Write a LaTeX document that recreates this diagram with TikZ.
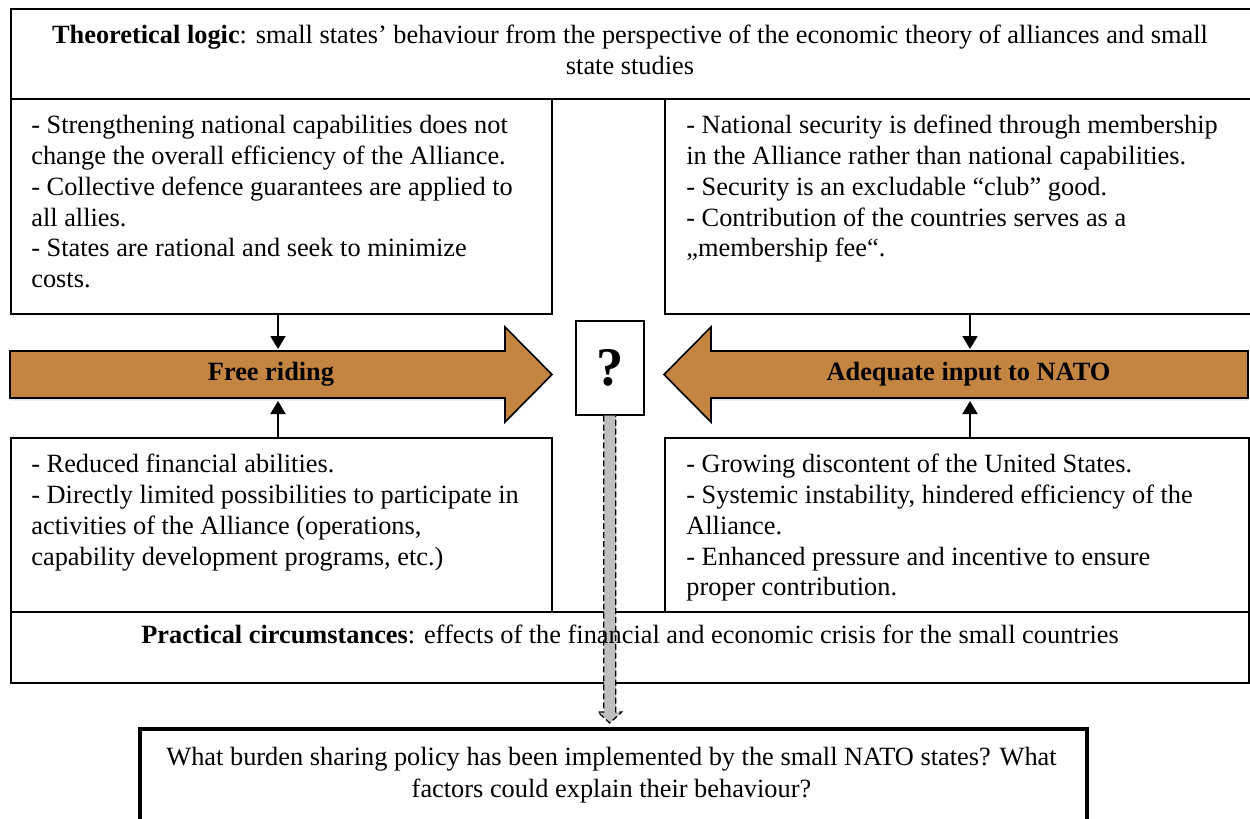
\documentclass[tikz,border=0pt]{standalone}
\usepackage{fontspec}
\setmainfont{Liberation Serif}
\usetikzlibrary{arrows.meta,calc,shadows}
\definecolor{arrowbrown}{RGB}{196,132,66}
\definecolor{dashgray}{RGB}{191,191,191}
\newcommand{\pxu}{0.02cm}
\newcommand{\bodysize}{\fontsize{15}{17.6}\selectfont}
\tikzset{
  boxframe/.style={draw, line width=0.9pt, inner sep=0pt, anchor=north west},
  txt/.style={inner sep=0pt, font=\bodysize, align=left, anchor=north west},
  ctxt/.style={inner sep=0pt, font=\bodysize, align=center, anchor=north},
  bigarrow/.style={draw, line width=0.9pt, fill=arrowbrown,
    drop shadow={shadow xshift=0pt, shadow yshift=-0.05cm, fill=black!18}},
  feed/.style={line width=1.1pt, -{Triangle[width=0.3cm,length=0.26cm]}},
  dashfeed/.style={line width=0.7pt, dash pattern=on 3.4pt off 1.7pt, fill=dashgray}
}
\begin{document}
\begin{tikzpicture}[x=\pxu,y=-\pxu]
  \useasboundingbox (0,0) rectangle (1250,818);
  \node[boxframe, minimum width=1243*\pxu, minimum height=90*\pxu] (theory) at (10,8) {};
  \node[boxframe, minimum width=541*\pxu, minimum height=215*\pxu] (capbox) at (10,98) {};
  \node[boxframe, minimum width=589*\pxu, minimum height=215*\pxu] (clubbox) at (664,98) {};
  \node[boxframe, minimum width=541*\pxu, minimum height=174*\pxu] (finbox) at (10,437) {};
  \node[boxframe, minimum width=584*\pxu, minimum height=174*\pxu] (usbox) at (664,437) {};
  \node[boxframe, minimum width=1238*\pxu, minimum height=71*\pxu] (practice) at (10,611) {};
  \node[boxframe, line width=2pt, minimum width=947*\pxu, minimum height=120*\pxu] (research) at (138,727) {};
  \node[boxframe, minimum width=68*\pxu, minimum height=94*\pxu,
    font=\fontsize{31}{31}\selectfont\bfseries] (query) at (575,320) {?};

  \draw[bigarrow] (10,351) -- (505,351) -- (505,327) -- (552,374.5) -- (505,422) -- (505,398) -- (10,398) -- cycle;
  \draw[bigarrow] (1248,351) -- (711,351) -- (711,327) -- (664,374.5) -- (711,422) -- (711,398) -- (1248,398) -- cycle;
  \node[font=\bodysize\bfseries] (freeride) at (271,374.5) {Free riding};
  \node[font=\bodysize\bfseries] (adequate) at (968.5,374.5) {Adequate input to NATO};

  \coordinate (fr-top) at (278,349);
  \coordinate (fr-bot) at (278,401);
  \coordinate (ad-top) at (970,349);
  \coordinate (ad-bot) at (970,401);
  \draw[feed] (capbox.south -| fr-top) -- (fr-top);
  \draw[feed] (finbox.north -| fr-bot) -- (fr-bot);
  \draw[feed] (clubbox.south -| ad-top) -- (ad-top);
  \draw[feed] (usbox.north -| ad-bot) -- (ad-bot);

  \draw[dashfeed] ($(query.south)+(-6,0)$) -- ($(query.south |- research.north)+(-6,-15)$) -- ++(-6,0)
    -- ($(query.south |- research.north)+(0,-4)$) -- ++(12,-11) -- ++(-6,0) -- ($(query.south)+(6,0)$);

  \node[ctxt] (theory-txt) at (630,21.3) {\strut\textbf{Theoretical logic}: small states’ behaviour from the perspective of the economic theory of alliances and small\\state studies};
  \node[txt] (cap-txt) at (31,111.3) {\strut- Strengthening national capabilities does not\\change the overall efficiency of the Alliance.\\- Collective defence guarantees are applied to\\all allies.\\- States are rational and seek to minimize\\costs.};
  \node[txt] (club-txt) at (686,111.3) {\strut- National security is defined through membership\\in the Alliance rather than national capabilities.\\- Security is an excludable “club” good.\\- Contribution of the countries serves as a\\„membership fee“.};
  \node[txt] (fin-txt) at (31,450.3) {\strut- Reduced financial abilities.\\- Directly limited possibilities to participate in\\activities of the Alliance (operations,\\capability development programs, etc.)};
  \node[txt] (us-txt) at (686,450.3) {\strut- Growing discontent of the United States.\\- Systemic instability, hindered efficiency of the\\Alliance.\\- Enhanced pressure and incentive to ensure\\proper contribution.};
  \node[ctxt] (practice-txt) at (630,621.3) {\strut\textbf{Practical circumstances}: effects of the financial and economic crisis for the small countries};
  \node[ctxt, font=\fontsize{15}{18.2}\selectfont] (research-txt) at (611.5,742.3) {\strut What burden sharing policy has been implemented by the small NATO states? What\\factors could explain their behaviour?};
\end{tikzpicture}
\end{document}
